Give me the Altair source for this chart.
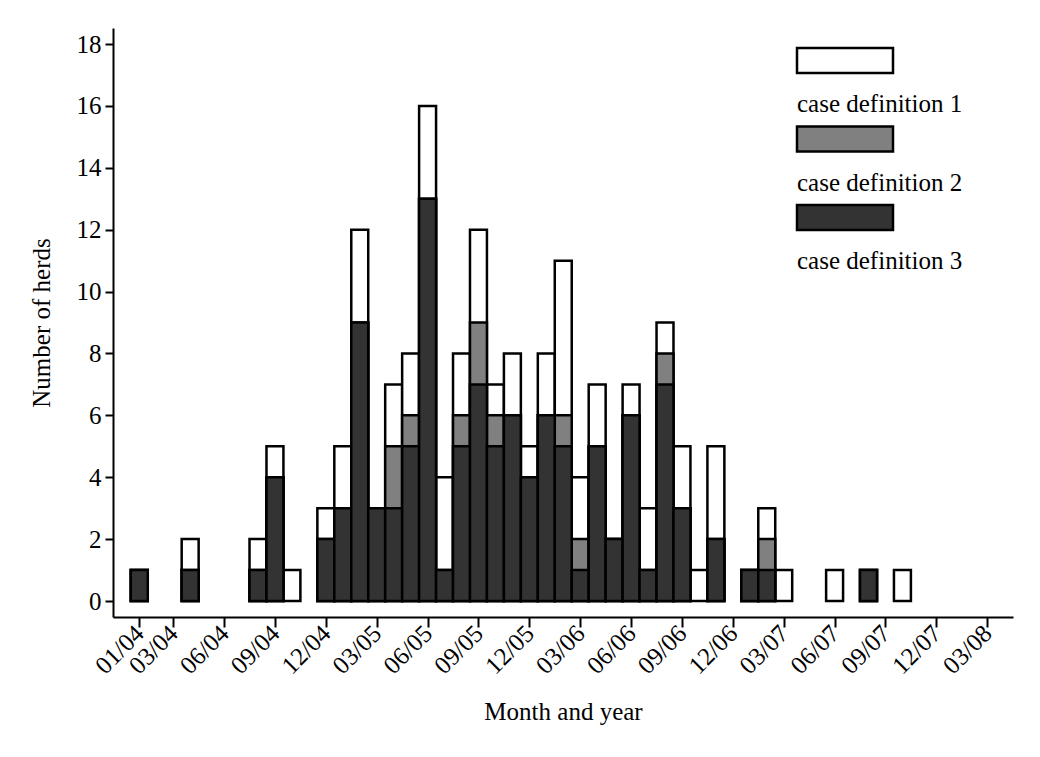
import altair as alt
import pandas as pd

# Month index: 0 = January 2004
month_index = [0, 3, 7, 8, 9, 11, 12, 13, 14, 15, 16, 17, 18, 19, 20, 21, 22, 23, 24,
               25, 26, 27, 28, 29, 30, 31, 32, 33, 34, 36, 37, 38, 41, 43, 45]
# Number of herds meeting each case definition (def1 ⊇ def2 ⊇ def3)
case_def1 = [1, 2, 2, 5, 1, 3, 5, 12, 3, 7, 8, 16, 4, 8, 12, 7, 8, 5, 8,
             11, 4, 7, 2, 7, 3, 9, 5, 1, 5, 1, 3, 1, 1, 1, 1]
case_def2 = [1, 1, 1, 4, 0, 2, 3, 9, 3, 5, 6, 13, 1, 6, 9, 6, 6, 4, 6,
             6, 2, 5, 2, 6, 1, 8, 3, 0, 2, 1, 2, 0, 0, 1, 0]
case_def3 = [1, 1, 1, 4, 0, 2, 3, 9, 3, 3, 5, 13, 1, 5, 7, 5, 6, 4, 6,
             5, 1, 5, 2, 6, 1, 7, 3, 0, 2, 1, 1, 0, 0, 1, 0]

tick_index = [0, 2, 5, 8, 11, 14, 17, 20, 23, 26, 29, 32, 35, 38, 41, 44, 47, 50]
tick_labels = ["01/04", "03/04", "06/04", "09/04", "12/04", "03/05", "06/05", "09/05",
               "12/05", "03/06", "06/06", "09/06", "12/06", "03/07", "06/07", "09/07",
               "12/07", "03/08"]

legend_labels = ["case definition 1", "case definition 2", "case definition 3"]
legend_fills = ["#ffffff", "#808080", "#333333"]

FONT = "Liberation Serif"
FS = 25

rows = []
for name, series in zip(legend_labels, [case_def1, case_def2, case_def3]):
    for m, v in zip(month_index, series):
        rows.append({"month": m, "value": v, "def": name})
df = pd.DataFrame(rows)

label_expr = "[" + ",".join("'%s'" % t for t in tick_labels) + "][indexof([" + \
    ",".join(str(t) for t in tick_index) + "], datum.value)]"

base = alt.Chart(df).transform_filter("datum.value > 0").transform_calculate(
    x0="datum.month - 0.5", x1="datum.month + 0.5"
).encode(
    x=alt.X("x0:Q",
            scale=alt.Scale(domain=[-1.55, 51.52], nice=False, zero=False),
            axis=alt.Axis(values=tick_index, labelExpr=label_expr, title="Month and year",
                          labelAngle=315, labelAlign="right", labelBaseline="middle",
                          tickSize=10, tickWidth=2, domainWidth=2, domainColor="black",
                          tickColor="black", labelFont=FONT, labelFontSize=FS,
                          labelColor="black", titleFont=FONT, titleFontSize=FS,
                          titleFontWeight="normal", titleColor="black", grid=False,
                          labelPadding=2, titlePadding=21, labelOverlap=False,
                          labelFlush=False)),
    x2="x1:Q",
    y=alt.Y("value:Q",
            scale=alt.Scale(domain=[-0.517, 18.52], nice=False, zero=False),
            axis=alt.Axis(values=list(range(0, 19, 2)), title="Number of herds",
                          tickSize=8, tickWidth=2, domainWidth=2, domainColor="black",
                          tickColor="black", labelFont=FONT, labelFontSize=FS,
                          labelColor="black", titleFont=FONT, titleFontSize=FS,
                          titleFontWeight="normal", titleColor="black", grid=False,
                          labelPadding=4, titlePadding=22)),
    y2=alt.datum(0),
)

layers = []
for name, fill in zip(legend_labels, legend_fills):
    layers.append(
        base.transform_filter(alt.datum["def"] == name)
        .mark_bar(fill=fill, stroke="black", strokeWidth=2.5)
    )

# Custom legend (swatch above its label)
for k, (name, fill) in enumerate(zip(legend_labels, legend_fills)):
    top = 20 + 78.5 * k
    layers.append(
        alt.Chart(pd.DataFrame({"t": [name]})).mark_rect(
            fill=fill, stroke="black", strokeWidth=2.5
        ).encode(x=alt.value(684), x2=alt.value(780), y=alt.value(top), y2=alt.value(top + 25))
    )
    layers.append(
        alt.Chart(pd.DataFrame({"t": [name]})).mark_text(
            font=FONT, fontSize=FS, align="left", baseline="alphabetic", color="black"
        ).encode(text="t:N", x=alt.value(684), y=alt.value(top + 64))
    )

chart = alt.layer(*layers).properties(
    width=900, height=589,
    padding={"left": 105, "top": 20, "right": 10, "bottom": 110},
    autosize=alt.AutoSizeParams(type="none"),
    background="white",
).configure_view(stroke=None)

chart.save("out.html", embed_options={"renderer": "svg", "actions": False})
